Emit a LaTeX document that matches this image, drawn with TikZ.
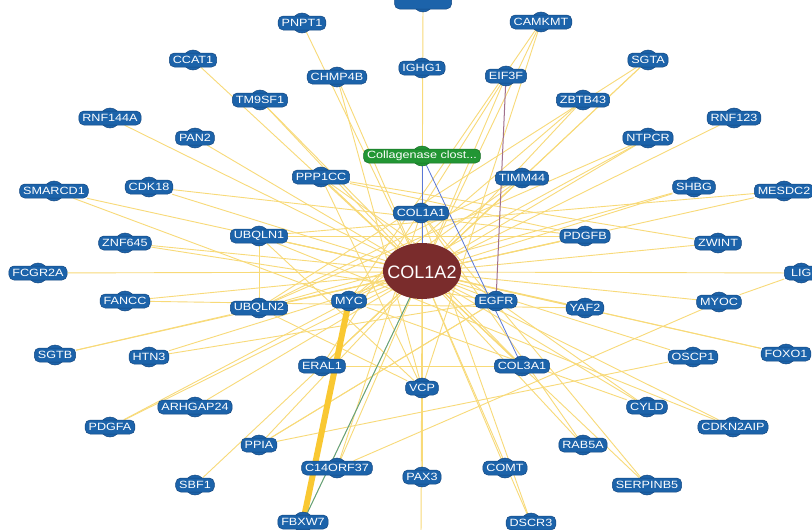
\documentclass[tikz,border=0pt]{standalone}
\usepackage{fontspec}
\newfontfamily\genefont[FakeStretch=1.2]{Liberation Sans}
\newfontfamily\hubfont{Liberation Sans}
\usetikzlibrary{shapes.geometric}
\pgfdeclarelayer{edges}
\pgfdeclarelayer{bumps}
\pgfsetlayers{edges,bumps,main}
\definecolor{nodeblue}{RGB}{28,99,170}
\definecolor{nodeedge}{RGB}{20,72,130}
\definecolor{collgreen}{RGB}{34,150,52}
\definecolor{colledge}{RGB}{22,110,36}
\definecolor{hubbrown}{RGB}{122,44,44}
\definecolor{linkyellow}{RGB}{248,218,120}
\definecolor{thickyellow}{RGB}{249,200,50}
\definecolor{linkblue}{RGB}{90,120,215}
\definecolor{linkmauve}{RGB}{160,112,140}
\definecolor{linkteal}{RGB}{90,160,135}
\tikzset{
  gene/.style={rectangle, rounded corners=5pt, fill=nodeblue, draw=nodeedge,
    line width=0.5pt, text=white, inner xsep=3.5pt, inner ysep=1.6pt,
    minimum height=14pt, font=\genefont\fontsize{10.5pt}{12pt}\selectfont},
  collnode/.style={gene, fill=collgreen, draw=colledge},
  bump/.style={fill=nodeblue, draw=nodeedge, line width=0.5pt},
  collbump/.style={fill=collgreen, draw=colledge, line width=0.5pt},
  lk/.style={draw=linkyellow, line width=0.9pt},
  thicklk/.style={draw=thickyellow, line width=6pt},
  bluelk/.style={draw=linkblue, line width=1pt},
  mauvelk/.style={draw=linkmauve, line width=1pt},
  teallk/.style={draw=linkteal, line width=0.9pt},
}
\begin{document}
\begin{tikzpicture}[x=1pt,y=-1pt]
\useasboundingbox (0,0) rectangle (812,530);
\begin{pgfonlayer}{edges}
\fill[white] (0,0) rectangle (812,530);
\end{pgfonlayer}
% hub
\begin{pgfonlayer}{bumps}
\fill[hubbrown] (422,271) ellipse (39pt and 28pt);
\end{pgfonlayer}
\node[text=white, inner sep=0pt, font=\hubfont\fontsize{18pt}{20pt}\selectfont] (hub) at (422,272) {COL1A2};
% genes
\foreach \n/\x/\y/\t in {
  pnpt/302/23/PNPT1, camkmt/541/22/CAMKMT, ccat/193/60/CCAT1, chmp/337/77/CHMP4B,
  ighg/422/68/IGHG1, eif/506/76/EIF3F, sgta/648/60/SGTA, tm9/260/100/TM9SF1,
  zbtb/583/100/ZBTB43, rnf144/110/118/RNF144A, pan/195/138/PAN2, ntpcr/648/138/NTPCR,
  rnf123/734/118/RNF123, ppp/321/177/PPP1CC, timm/522/178/TIMM44, smarc/54/191/SMARCD1,
  cdk/149/187/CDK18, shbg/694/187/SHBG, mesdc/784/191/MESDC2, col1a1/421/213/COL1A1,
  ubq1/259/236/UBQLN1, pdgfb/585/236/PDGFB, znf/125/243/ZNF645, zwint/718/243/ZWINT,
  fcgr/38/273/FCGR2A, fancc/125/301/FANCC, ubq2/259/308/UBQLN2, myc/349/301/MYC,
  egfr/496/301/EGFR, yaf/585/308/YAF2, myoc/719/302/MYOC, foxo/786/354/FOXO1,
  sgtb/55/355/SGTB, htn/149/357/HTN3, eral/322/366/ERAL1, col3a1/522/366/COL3A1,
  oscp/693/357/OSCP1, vcp/422/388/VCP, arhgap/195/407/ARHGAP24, pdgfa/110/427/PDGFA,
  cyld/647/407/CYLD, cdkn/733/427/CDKN2AIP, ppia/259/445/PPIA, rab/583/445/RAB5A,
  c14/337/468/C14ORF37, pax/422/477/PAX3, comt/505/468/COMT, sbf/195/485/SBF1,
  serp/647/485/SERPINB5, fbxw/303/522/FBXW7, dscr/531/523/DSCR3}{
  \node[gene] (\n) at (\x,\y) {\t};
  \begin{pgfonlayer}{bumps}\filldraw[bump] (\n.center) circle (10pt);\end{pgfonlayer}
}
% nodes cut by the border
\node[gene, minimum width=57pt] (topn) at (423,2) {};
\begin{pgfonlayer}{bumps}\filldraw[bump] (topn.center) circle (10pt);\end{pgfonlayer}
\node[gene, minimum width=40pt] (botn) at (421,541) {};
\begin{pgfonlayer}{bumps}\filldraw[bump] (botn.center) circle (10pt);\end{pgfonlayer}
\node[gene, anchor=west, minimum width=34pt, align=left] (lig) at (784,273) {LIG\hfill};
\begin{pgfonlayer}{bumps}\filldraw[bump] (lig.center) circle (10pt);\end{pgfonlayer}
% collagenase
\node[collnode] (coll) at (422,156) {Collagenase clost...};
\begin{pgfonlayer}{bumps}\filldraw[collbump] (coll.center) circle (10pt);\end{pgfonlayer}
% edges
\begin{pgfonlayer}{edges}
\foreach \n in {topn,pnpt,camkmt,ccat,chmp,ighg,eif,sgta,tm9,zbtb,rnf144,pan,ntpcr,
  rnf123,ppp,timm,smarc,cdk,shbg,mesdc,ubq1,pdgfb,znf,zwint,fcgr,lig,fancc,ubq2,myc,
  egfr,yaf,myoc,foxo,sgtb,htn,eral,col3a1,oscp,vcp,arhgap,pdgfa,cyld,cdkn,ppia,rab,
  c14,pax,comt,sbf,serp,fbxw,dscr,botn}
  {\draw[lk] (hub) -- (\n);}
\foreach \a/\b in {ubq1/ubq2, chmp/vcp, smarc/myc, cdk/pdgfb, ppp/zwint, ppp/vcp,
  ppp/col3a1, tm9/col3a1, timm/eral, timm/myc, eif/eral, camkmt/myc, camkmt/vcp,
  sgta/eral, sgta/ubq2, zbtb/myc, ntpcr/myc, ntpcr/ubq2, shbg/ubq2, mesdc/ubq1,
  lig/myoc, myoc/c14, ppia/oscp, ppia/egfr, cyld/ppp, cdkn/ubq1, rab/col1a1,
  serp/col1a1, dscr/col1a1, c14/col1a1, eral/col3a1, ubq1/vcp, ubq2/vcp, ubq1/pdgfb,
  ubq2/pdgfb, timm/ubq2, ppp/pdgfb, znf/egfr, htn/egfr, sgtb/ubq2, pdgfa/myc,
  foxo/ubq1, fancc/yaf, myc/cyld, egfr/ppia}
  {\draw[lk] (\a) -- (\b);}
\draw[thicklk] (myc) -- (fbxw);
\draw[teallk] (hub) -- (fbxw);
\draw[bluelk] (coll) -- (hub);
\draw[bluelk, line width=0.8pt] (coll) -- (col3a1);
\draw[mauvelk] (eif) -- (egfr);
\end{pgfonlayer}
\end{tikzpicture}
\end{document}
